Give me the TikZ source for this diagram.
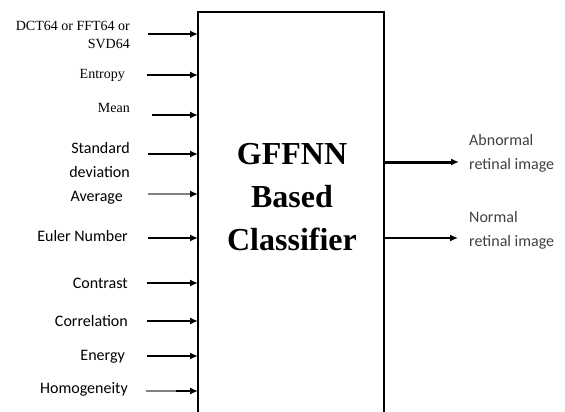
\documentclass[tikz,border=0pt]{standalone}
\usepackage{fontspec}
\setmainfont{Liberation Serif}
\newfontfamily\calib{Carlito}
\usetikzlibrary{arrows.meta}
\tikzset{
  serlbl/.style={anchor=east, align=right, inner sep=0pt, font=\fontsize{14}{18}\selectfont},
  callbl/.style={anchor=east, align=right, inner sep=0pt, font=\calib\fontsize{16}{24}\selectfont},
  outlbl/.style={anchor=west, align=left, inner sep=0pt, text=black!75, font=\calib\fontsize{16}{24}\selectfont},
  feat/.style={-{Latex[length=8pt,width=7pt]}, line width=#1},
  feat/.default=2pt,
  boxline/.style={line width=2pt},
  title/.style={align=center, font=\bfseries\fontsize{32}{43}\selectfont}
}
\begin{document}
\begin{tikzpicture}[x=1pt,y=-1pt]
\useasboundingbox (0,0) rectangle (565,412);
\clip (0,0) rectangle (565,412);
% classifier box, open at the bottom
\draw[boxline] (198,430) |- (384,12) -- (384,430);
\node[title] (clf) at (292,197) {GFFNN\\Based\\Classifier};
% features
\node[serlbl] (dct) at (130,35) {DCT64 or FFT64 or\\SVD64};
\node[serlbl] (ent) at (125,75) {Entropy};
\node[serlbl] (mean) at (130,108) {Mean};
\node[callbl] (std) at (130,160) {Standard\\deviation};
\node[callbl] (avg) at (123,198) {Average};
\node[callbl] (eul) at (128,236) {Euler Number};
\node[callbl] (con) at (128,283) {Contrast};
\node[callbl] (cor) at (128,321) {Correlation};
\node[callbl] (ene) at (125,357) {Energy};
\node[callbl] (hom) at (128,389) {Homogeneity};
\foreach \nm/\y in {dct/34,ent/75,mean/115,std/154,avg/194,eul/238,con/283,cor/321,ene/356,hom/391}
  \coordinate (in-\nm) at (198,\y);
\draw[feat=2.5pt] (148,34) -- (in-dct);
\draw[feat=1.5pt] (147,75) -- (in-ent);
\draw[feat=2.5pt] (152,115) -- (in-mean);
\draw[feat] (148,154) -- (in-std);
\draw[feat, gray, -{Latex[length=8pt,width=7pt,black]}] (148,194) -- (in-avg);
\draw[feat] (148,238) -- (in-eul);
\draw[feat] (147,283) -- (in-con);
\draw[feat=2.5pt] (147,321) -- (in-cor);
\draw[feat] (147,356) -- (in-ene);
\draw[line width=2pt, gray] (146,391) -- (178,391);
\draw[feat] (176,391) -- (in-hom);
% outputs
\coordinate (out-ab) at (384,162);
\coordinate (out-no) at (384,238);
\node[outlbl] (ab) at (469,153) {Abnormal\\retinal image};
\node[outlbl] (no) at (469,230) {Normal\\retinal image};
\draw[feat=3pt] (out-ab) -- (459,162);
\draw[feat=1.5pt] (out-no) -- (458,238);
\end{tikzpicture}
\end{document}
